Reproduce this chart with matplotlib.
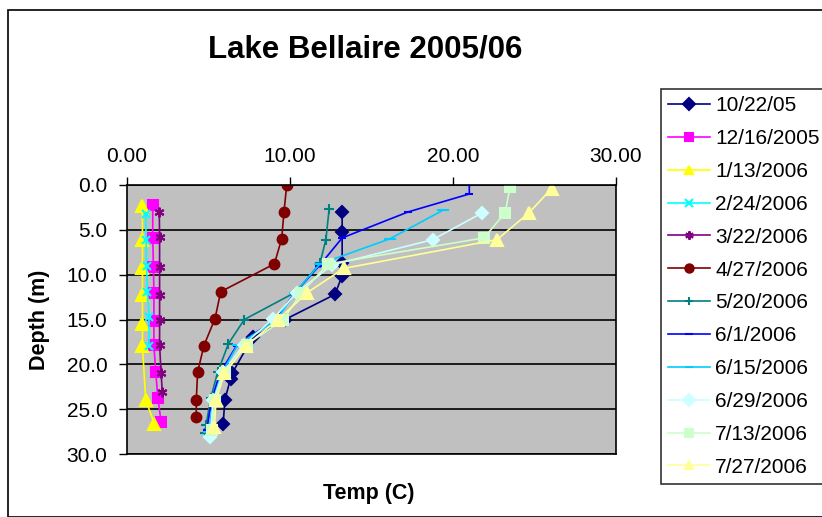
import matplotlib
matplotlib.use("Agg")
import matplotlib.pyplot as plt
from matplotlib.patches import Rectangle

plt.rcParams['font.family'] = ['Liberation Sans', 'DejaVu Sans']

# temperature (C) and depth (m) per sampling date
labels = ['10/22/05', '12/16/2005', '1/13/2006', '2/24/2006', '3/22/2006', '4/27/2006',
          '5/20/2006', '6/1/2006', '6/15/2006', '6/29/2006', '7/13/2006', '7/27/2006']

t_1022 = [13.2, 13.2, 13.2, 13.2, 12.76, 9.7, 7.7, 6.45, 6.35, 6.0, 5.9]
d_1022 = [3.0, 5.2, 8.7, 10.1, 12.2, 15.0, 17.0, 21.0, 21.6, 24.0, 26.7]

t_1216 = [1.58, 1.58, 1.62, 1.65, 1.65, 1.65, 1.76, 1.9, 2.09]
d_1216 = [2.2, 5.9, 9.1, 12.0, 15.2, 17.8, 20.8, 23.8, 26.4]

t_0113 = [0.94, 0.95, 0.95, 0.95, 0.95, 0.95, 1.15, 1.68]
d_0113 = [2.3, 6.1, 9.3, 12.3, 15.5, 18.0, 24.0, 26.6]

t_0224 = [1.15, 1.17, 1.2, 1.25, 1.35, 1.35]
d_0224 = [3.2, 6.1, 9.0, 11.9, 14.7, 17.9]

t_0322 = [1.98, 2.0, 2.0, 2.0, 2.0, 2.0, 2.09, 2.17]
d_0322 = [3.0, 5.8, 9.1, 12.3, 15.1, 17.8, 21.0, 23.1]

t_0427 = [9.8, 9.63, 9.49, 9.04, 5.75, 5.4, 4.72, 4.33, 4.25, 4.25]
d_0427 = [0.0, 3.0, 6.0, 8.8, 11.9, 14.9, 17.9, 20.9, 24.0, 25.9]

t_0520 = [12.4, 12.2, 11.84, 10.4, 7.2, 6.22, 5.56, 5.13, 4.85, 4.8]
d_0520 = [2.7, 6.1, 8.7, 11.9, 15.0, 17.7, 20.9, 23.8, 26.8, 27.7]

t_0601 = [21.0, 21.0, 17.25, 13.2, 11.8, 10.3, 9.1, 6.73, 5.7, 5.19, 4.89]
d_0601 = [0.0, 1.0, 3.0, 5.9, 9.0, 12.0, 15.0, 17.9, 21.0, 24.0, 27.3]

t_0615 = [19.4, 16.13, 11.84, 10.3, 9.2, 6.8, 5.8, 5.3, 5.0]
d_0615 = [2.8, 6.0, 8.8, 12.0, 15.0, 17.8, 21.0, 24.0, 27.6]

t_0629 = [21.8, 18.75, 12.6, 10.41, 8.98, 7.15, 5.9, 5.3, 5.09]
d_0629 = [3.1, 6.1, 8.9, 12.0, 14.9, 17.8, 20.9, 24.0, 28.1]

t_0713 = [23.5, 23.2, 21.9, 12.35, 10.7, 9.6, 7.34, 6.0, 5.4, 5.2]
d_0713 = [0.2, 3.1, 5.9, 8.8, 12.0, 15.0, 17.8, 21.0, 24.0, 27.3]

t_0727 = [26.05, 24.66, 22.7, 13.3, 11.06, 9.28, 7.3, 5.97, 5.46, 5.36]
d_0727 = [0.4, 3.1, 6.1, 9.3, 12.0, 15.0, 17.9, 21.0, 24.0, 27.0]

temps = [t_1022, t_1216, t_0113, t_0224, t_0322, t_0427, t_0520, t_0601, t_0615, t_0629, t_0713, t_0727]
depths = [d_1022, d_1216, d_0113, d_0224, d_0322, d_0427, d_0520, d_0601, d_0615, d_0629, d_0713, d_0727]

colors = ['#000080', '#FF00FF', '#FFFF00', '#00FFFF', '#800080', '#800000',
          '#008080', '#0000FF', '#00CCFF', '#CCFFFF', '#CCFFCC', '#FFFF99']
markers = ['D', 's', '^', 'x', (6, 2, 0), 'o', '+', '_', '_', 'D', 's', '^']
msizes = [6, 7, 8, 6, 7, 7, 7, 6, 9, 6, 7, 8]

fig = plt.figure(figsize=(8.22, 5.17), dpi=100)
fig.patches.append(Rectangle((8 / 822, 0), 1.0, 1 - 10 / 517, transform=fig.transFigure,
                             fill=False, edgecolor='black', linewidth=1.2))

ax = fig.add_axes([127 / 822, 1 - 454 / 517, 489 / 822, 269 / 517])
ax.set_facecolor('#C0C0C0')

for t, d, c, m, ms, lab in zip(temps, depths, colors, markers, msizes, labels):
    ax.plot(t, d, color=c, marker=m, markersize=ms, linewidth=1.2,
            markeredgecolor=c, markerfacecolor=c, markeredgewidth=1.5, label=lab)

ax.set_xlim(0, 30)
ax.set_ylim(30, 0)
ax.set_xticks([0, 10, 20, 30])
ax.set_xticklabels(['0.00', '10.00', '20.00', '30.00'])
ax.set_yticks([0, 5, 10, 15, 20, 25, 30])
ax.set_yticklabels(['0.0', '5.0', '10.0', '15.0', '20.0', '25.0', '30.0'])
ax.xaxis.tick_top()
ax.tick_params(axis='both', direction='out', length=6, width=1, colors='black', labelsize=15)
ax.tick_params(axis='x', pad=8)
ax.tick_params(axis='y', pad=8)
ax.yaxis.grid(True, color='black', linewidth=1.2)
ax.set_axisbelow(True)
for s in ax.spines.values():
    s.set_color('black')
    s.set_linewidth(1.2)

fig.text(365 / 822, 1 - 50 / 517, 'Lake Bellaire 2005/06', ha='center', va='center',
         fontsize=22.5, fontweight='bold')
fig.text(40 / 822, 1 - 320 / 517, 'Depth (m)', ha='center', va='center', rotation=90,
         fontsize=15.5, fontweight='bold')
fig.text(369 / 822, 1 - 493 / 517, 'Temp (C)', ha='center', va='center',
         fontsize=15.5, fontweight='bold')

leg = fig.legend(loc='upper left', bbox_to_anchor=(661 / 822, 1 - 89 / 517),
                 bbox_transform=fig.transFigure, fontsize=15, frameon=True,
                 fancybox=False, edgecolor='black', labelspacing=0.665,
                 handlelength=2.0, borderpad=0.35, handletextpad=0.25,
                 borderaxespad=0)
leg.get_frame().set_linewidth(1.2)
for h in leg.legend_handles:
    h.set_markersize(6)

fig.savefig('out.png', dpi=100)
